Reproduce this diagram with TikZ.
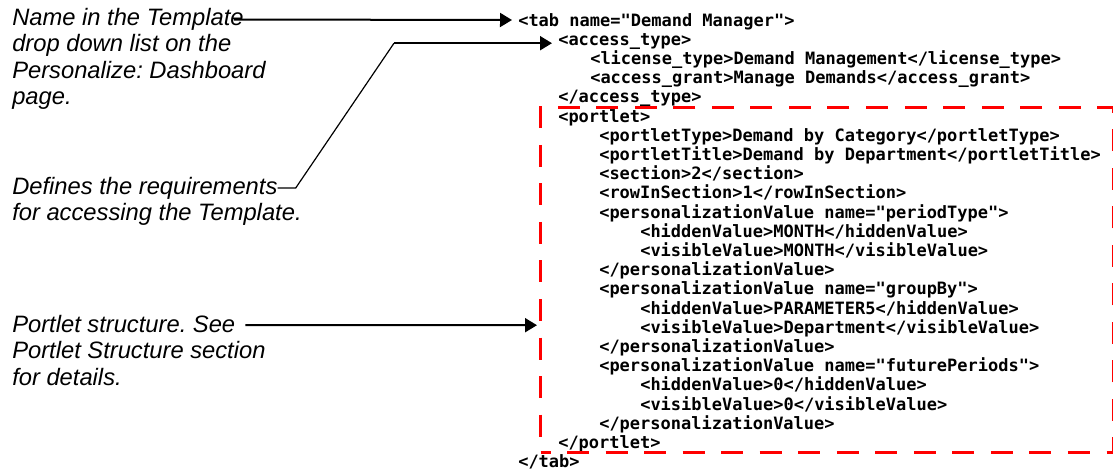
\documentclass[tikz,border=0pt]{standalone}
\usepackage{fontspec}
\setmainfont{Liberation Sans}
\newfontfamily\codefont{DejaVu Sans Mono}
\usetikzlibrary{arrows.meta,calc}
\frenchspacing

\begin{document}
\begin{tikzpicture}[x=0.75pt,y=-0.75pt,
  note/.style={anchor=base west, inner sep=0pt, text=black,
    font=\fontsize{17.8}{21}\selectfont\itshape},
  code/.style={anchor=base west, inner sep=0pt, text height=9pt, text depth=0pt,
    text=black, font=\codefont\bfseries\fontsize{12.75}{14}\selectfont},
  frame/.style={draw=red, line width=2.25pt, dash pattern=on 16.5pt off 12.4pt,
    dash phase=9pt, anchor=north west, inner sep=0pt},
  pointer/.style={line width=1.5pt, -{Triangle[length=9pt,width=10.5pt]}},
  leader/.style={line width=0.9pt}]

\useasboundingbox (0,0) rectangle (1113,472);

% explanatory notes on the left
\node[note] (n1) at (12,25)    {Name in the Template};
\node[note] (n2) at (12,51.5)  {drop down list on the};
\node[note] (n3) at (12,78)    {Personalize: Dashboard};
\node[note] (n4) at (12,104.5) {page.};

\node[note] (d1) at (12,194)   {Defines the requirements};
\node[note] (d2) at (12,220.5) {for accessing the Template.};

\node[note] (p1) at (12,332)   {Portlet structure. See};
\node[note] (p2) at (12,358.5) {Portlet Structure section};
\node[note] (p3) at (12,385)   {for details.};

% the XML listing
\node[code] (c0)  at (518,26)    {<tab name="Demand Manager">};
\node[code] (c1)  at (558,45.2)  {<access\_type>};
\node[code] (c2)  at (590,64.4)  {<license\_type>Demand Management</license\_type>};
\node[code] (c3)  at (590,83.6)  {<access\_grant>Manage Demands</access\_grant>};
\node[code] (c4)  at (558,102.8) {</access\_type>};
\node[code] (c5)  at (558,122)   {<portlet>};
\node[code] (c6)  at (599,141.2) {<portletType>Demand by Category</portletType>};
\node[code] (c7)  at (599,160.4) {<portletTitle>Demand by Department</portletTitle>};
\node[code] (c8)  at (599,179.6) {<section>2</section>};
\node[code] (c9)  at (599,198.8) {<rowInSection>1</rowInSection>};
\node[code] (c10) at (599,218)   {<personalizationValue name="periodType">};
\node[code] (c11) at (640,237.2) {<hiddenValue>MONTH</hiddenValue>};
\node[code] (c12) at (640,256.4) {<visibleValue>MONTH</visibleValue>};
\node[code] (c13) at (599,275.6) {</personalizationValue>};
\node[code] (c14) at (599,294.8) {<personalizationValue name="groupBy">};
\node[code] (c15) at (640,314)   {<hiddenValue>PARAMETER5</hiddenValue>};
\node[code] (c16) at (640,333.2) {<visibleValue>Department</visibleValue>};
\node[code] (c17) at (599,352.4) {</personalizationValue>};
\node[code] (c18) at (599,371.6) {<personalizationValue name="futurePeriods">};
\node[code] (c19) at (640,390.8) {<hiddenValue>0</hiddenValue>};
\node[code] (c20) at (640,410)   {<visibleValue>0</visibleValue>};
\node[code] (c21) at (599,429.2) {</personalizationValue>};
\node[code] (c22) at (558,448.4) {</portlet>};
\node[code] (c23) at (518,467.6) {</tab>};

% dashed frame round the portlet element
\node[frame, minimum width=429.75pt, minimum height=259.1pt] (portletframe) at (539,105.5) {};

% leader lines
\coordinate (tip1) at ($(c0.west)+(-6,0)$);
\coordinate (from1) at ($(n1.base east)+(-10,-5.5)$);
\draw[pointer] (from1) -- (tip1);

\coordinate (tip2) at ($(c1.west)+(-6,4)$);
\coordinate (knee) at ($(tip2)+(-158,0)$);
\coordinate (from2) at ($(d1.base east)+(0,-6)$);
\coordinate (elbow) at ($(from2)+(18,0)$);
\draw[leader] (from2) -- (elbow) -- (knee);
\draw[pointer] (knee) -- (tip2);

\coordinate (tip3) at ($(portletframe.west |- c16.west)+(-2,-2)$);
\coordinate (from3) at ($(p1.base east)+(10,-7)$);
\draw[pointer] (from3) -- (tip3);
\end{tikzpicture}
\end{document}
